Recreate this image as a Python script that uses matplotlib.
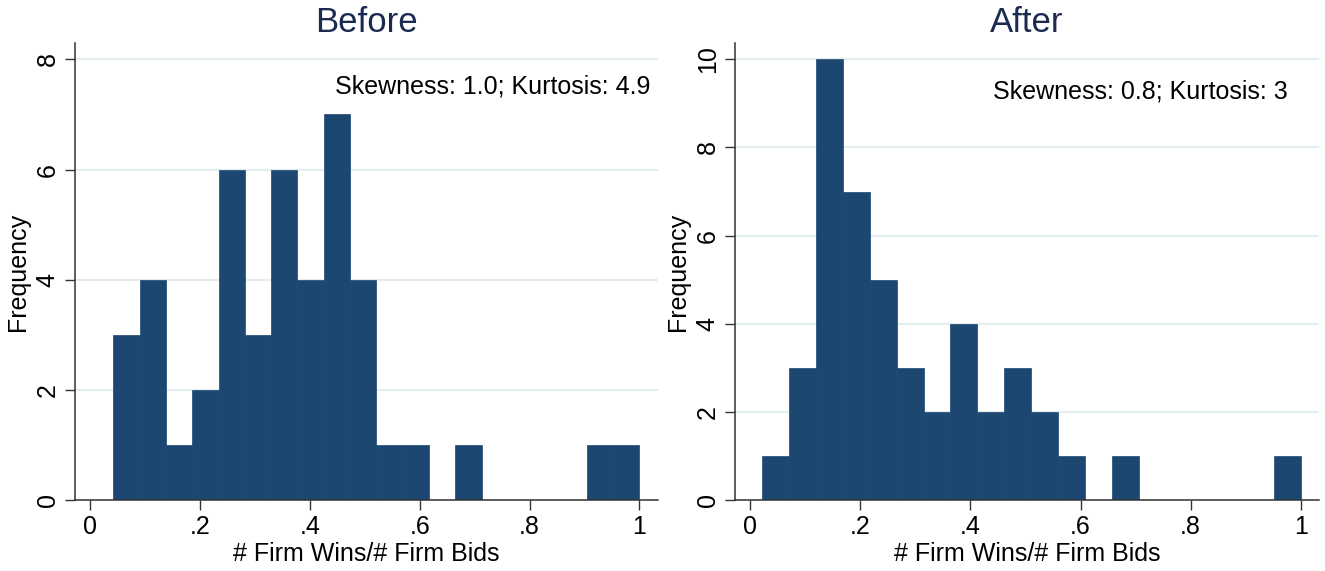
import numpy as np
import matplotlib
matplotlib.use("Agg")
import matplotlib.pyplot as plt

plt.rcParams['font.family'] = ['Liberation Sans', 'DejaVu Sans']

# histogram counts, 20 equal-width bins between min and max share
before_counts = [3, 4, 1, 2, 6, 3, 6, 4, 7, 4, 1, 1, 0, 1, 0, 0, 0, 0, 1, 1]
before_range = (0.042, 1.0)
before_stats = "Skewness: 1.0; Kurtosis: 4.9"

after_counts = [1, 3, 10, 7, 5, 3, 2, 4, 2, 3, 2, 1, 0, 1, 0, 0, 0, 0, 0, 1]
after_range = (0.021, 1.0)
after_stats = "Skewness: 0.8; Kurtosis: 3"

x_ticks = [0, 0.2, 0.4, 0.6, 0.8, 1.0]
x_ticklabels = ["0", ".2", ".4", ".6", ".8", "1"]

bar_color = "#1c4770"
grid_color = "#e4eef1"
title_color = "#1b2a50"

fig = plt.figure(figsize=(13.25, 5.71), dpi=100)


def draw_hist(ax, counts, rng, title, stats, yticks, ymax, stats_xy):
    edges = np.linspace(rng[0], rng[1], len(counts) + 1)
    ax.bar(edges[:-1], counts, width=np.diff(edges), align="edge",
           color=bar_color, edgecolor=bar_color, linewidth=0.5, zorder=2)
    ax.set_xlim(-0.028, 1.034)
    ax.set_ylim(0, ymax)
    ax.set_yticks(yticks)
    ax.set_yticklabels([str(t) for t in yticks], rotation=90, va="center")
    ax.set_xticks(x_ticks)
    ax.set_xticklabels(x_ticklabels)
    ax.yaxis.grid(True, color=grid_color, linewidth=1.6, zorder=0)
    ax.set_axisbelow(True)
    for side in ("top", "right"):
        ax.spines[side].set_visible(False)
    for side in ("left", "bottom"):
        ax.spines[side].set_color("#333333")
        ax.spines[side].set_linewidth(1.1)
    ax.tick_params(axis="both", direction="out", length=7, width=1.0,
                   color="#333333", labelsize=18, pad=4)
    ax.set_xlabel("# Firm Wins/# Firm Bids", fontsize=18, labelpad=2)
    ax.set_ylabel("Frequency", fontsize=18, labelpad=4)
    ax.set_title(title, fontsize=25, color=title_color, pad=8)
    ax.text(stats_xy[0], stats_xy[1], stats, fontsize=18, ha="right",
            va="center")


ax1 = fig.add_axes([0.0566, 0.124, 0.44, 0.80])
draw_hist(ax1, before_counts, before_range, "Before", before_stats,
          [0, 2, 4, 6, 8], 8.29, (1.02, 7.5))

ax2 = fig.add_axes([0.5547, 0.124, 0.441, 0.80])
draw_hist(ax2, after_counts, after_range, "After", after_stats,
          [0, 2, 4, 6, 8, 10], 10.36, (0.976, 9.27))

fig.savefig("out.png", dpi=100)
